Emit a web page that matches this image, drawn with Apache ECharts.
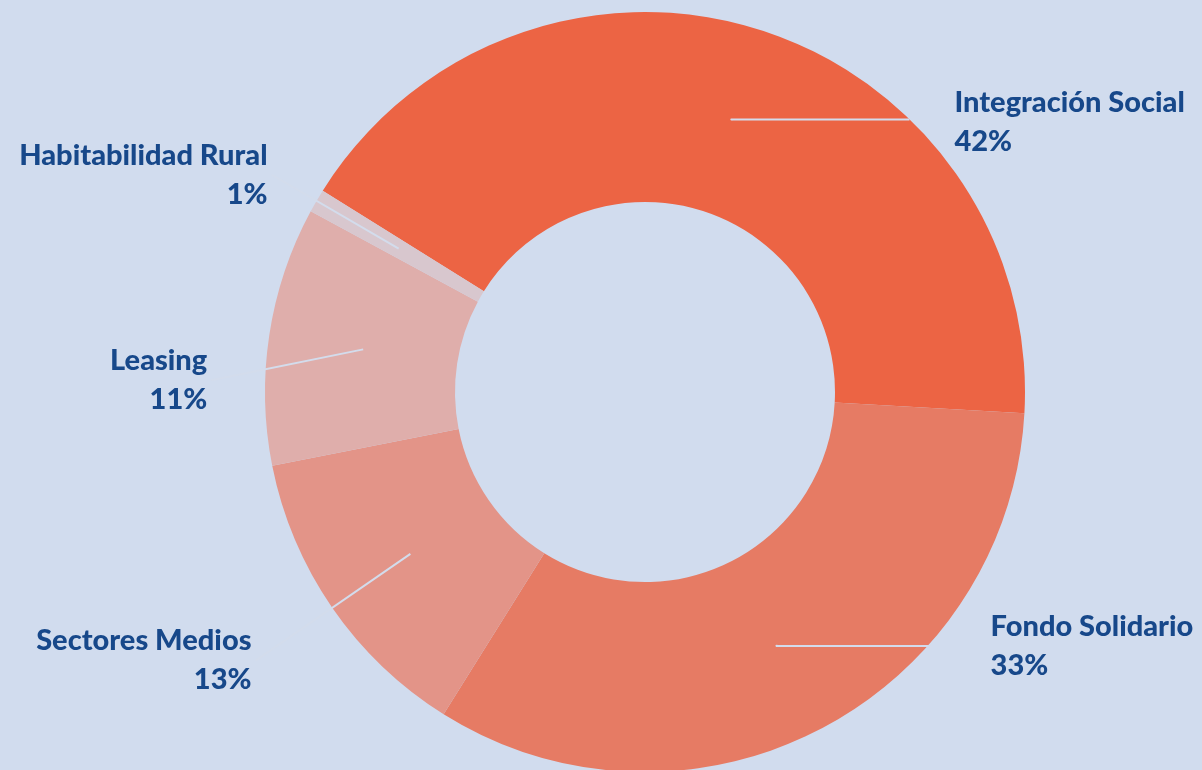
<!DOCTYPE html>
<html>
<head>
<meta charset="utf-8">
<script src="https://cdn.jsdelivr.net/npm/echarts@6/dist/echarts.min.js"></script>
<style>
  html, body { margin: 0; padding: 0; background: #D1DCEE; }
  #chart { width: 1202px; height: 770px; }
</style>
</head>
<body>
<div id="chart"></div>
<script>
// ---- data ----
var categories = ['Integración Social', 'Fondo Solidario', 'Sectores Medios', 'Leasing', 'Habitabilidad Rural'];
var values = [42, 33, 13, 11, 1];
var sliceColors = ['#EC6444', '#E67B64', '#E39488', '#DFAEAB', '#D8C7CE'];

// ---- label guide styling (per slice) ----
var lineLen  = [1, 1, 187, 1, 146];
var lineLen2 = [178, 154, 1, 150, 1];
var labelGap = [45, 60, 4, 5, 4];
var labelShiftY = [3, 0, 0, 31, 0];

var chart = echarts.init(document.getElementById('chart'));

var ringData = categories.map(function (c, i) {
  return { name: c, value: values[i], itemStyle: { color: sliceColors[i] } };
});
var labelData = categories.map(function (c, i) {
  return {
    name: c, value: values[i],
    labelLine: { length: lineLen[i], length2: lineLen2[i] },
    label: { distanceToLabelLine: labelGap[i] }
  };
});

var option = {
  backgroundColor: '#D1DCEE',
  animation: false,
  series: [
    {
      type: 'pie',
      silent: true,
      center: [645, 392],
      radius: [190, 380],
      startAngle: 148,
      clockwise: true,
      avoidLabelOverlap: false,
      label: { show: false },
      labelLine: { show: false },
      itemStyle: { borderWidth: 0 },
      data: ringData
    },
    {
      type: 'pie',
      silent: true,
      z: 5,
      center: [645, 392],
      radius: [0, 285],
      startAngle: 148,
      clockwise: true,
      avoidLabelOverlap: false,
      itemStyle: { color: 'rgba(0,0,0,0)', borderWidth: 0 },
      label: {
        show: true,
        position: 'outside',
        formatter: '{b}\n{c}%',
        color: '#17488A',
        fontFamily: 'Lato',
        fontWeight: 900,
        fontSize: 29,
        lineHeight: 39
      },
      labelLine: {
        show: true,
        smooth: false,
        lineStyle: { color: '#D3DCEC', width: 2 }
      },
      labelLayout: function (p) {
        var s = labelShiftY[p.dataIndex];
        if (!s) return {};
        var r = p.labelRect;
        var pts = p.labelLinePoints;
        if (!pts || p.dataIndex !== 3) return { dy: s };
        var start = [pts[0][0], pts[0][1]];
        var endX = p.align === 'right' ? r.x + r.width + 4 : r.x - 4;
        var end = [endX, r.y + r.height / 2 + s];
        return { dy: s, labelLinePoints: [start, end] };
      },
      data: labelData
    }
  ]
};
chart.setOption(option);
</script>
</body>
</html>
